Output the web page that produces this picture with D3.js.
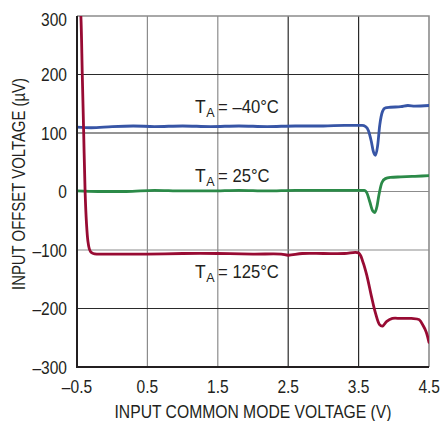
<!DOCTYPE html>
<html>
<head>
<meta charset="utf-8">
<script src="https://cdn.jsdelivr.net/npm/d3@7"></script>
<style>
  body { margin: 0; background: #fff; }
  text { font-family: "Liberation Sans Narrow", "Liberation Sans", Arial, sans-serif; fill: #231f20; }
</style>
</head>
<body>
<div class="chart"></div>
<script>
var svgWidth = 441;
var svgHeight = 421;

var margin = { top: 16, right: 12, bottom: 54, left: 77 };
var width = svgWidth - margin.left - margin.right;
var height = svgHeight - margin.top - margin.bottom;

// tick values
var xTicks = [-0.5, 0.5, 1.5, 2.5, 3.5, 4.5];
var yTicks = [-300, -200, -100, 0, 100, 200, 300];
// grid shading (some lines print grey, some black)
var xGridGrey = [0.5, 1.5];
var yGridGrey = [0, -100];

// T_A = -40C
var coldX = [-0.5, -0.3, 0, 0.3, 0.6, 1.0, 1.4, 1.8, 2.2, 2.6, 3.0, 3.3, 3.55, 3.6, 3.64, 3.68, 3.71, 3.74, 3.77, 3.8, 3.84, 3.88, 3.95, 4.1, 4.2, 4.3, 4.5];
var coldY = [110, 109, 111, 112, 111, 112, 111, 112, 111, 112, 112, 113, 113, 111, 104, 86, 68, 62, 78, 113, 137, 143, 144, 145, 147, 146, 147];

// T_A = 25C
var roomX = [-0.5, -0.2, 0.2, 0.6, 1.0, 1.4, 1.8, 2.2, 2.6, 3.0, 3.3, 3.58, 3.62, 3.66, 3.7, 3.73, 3.76, 3.79, 3.83, 3.88, 3.95, 4.1, 4.3, 4.5];
var roomY = [1, 0, 0, 2, 1, 1, 2, 1, 2, 2, 2, 2, -3, -18, -33, -36, -26, -5, 15, 22, 24, 25, 26, 27];

// T_A = 125C
var hotX = [-0.462, -0.445, -0.425, -0.405, -0.385, -0.365, -0.345, -0.325, -0.3, -0.27, -0.22, 0, 0.5, 1.0, 1.5, 2.0, 2.4, 2.5, 2.7, 3.0, 3.3, 3.5, 3.56, 3.62, 3.68, 3.74, 3.8, 3.84, 3.9, 3.98, 4.1, 4.25, 4.36, 4.42, 4.46, 4.5];
var hotY = [330, 300, 200, 100, 0, -55, -85, -98, -104, -106, -107, -107, -107, -106, -106, -107, -107, -109, -106, -106, -106, -105, -120, -145, -178, -208, -228, -230, -222, -217, -217, -217, -219, -230, -240, -258];

// curve labels
var labelText = ["= \u201340\u00b0C", "= 25\u00b0C", "= 125\u00b0C"];
var labelY = [113, 182, 278];

var series = [
  { x: coldX, y: coldY, color: "#3755a6" },
  { x: roomX, y: roomY, color: "#2b8a48" },
  { x: hotX, y: hotY, color: "#980b33" }
];

var svg = d3.select(".chart")
  .append("svg")
  .attr("width", svgWidth)
  .attr("height", svgHeight);

var chartGroup = svg.append("g")
  .attr("transform", `translate(${margin.left}, ${margin.top})`);

var xScale = d3.scaleLinear().domain([-0.5, 4.5]).range([0, width]);
var yScale = d3.scaleLinear().domain([-300, 300]).range([height, 0]);

// grid
chartGroup.selectAll(".xgrid")
  .data(xTicks.slice(1, -1))
  .enter()
  .append("line")
  .attr("x1", d => xScale(d))
  .attr("x2", d => xScale(d))
  .attr("y1", 0)
  .attr("y2", height)
  .attr("stroke", d => xGridGrey.indexOf(d) >= 0 ? "#8c8c8c" : "#2a2a2a")
  .attr("stroke-width", 1.2);

chartGroup.selectAll(".ygrid")
  .data(yTicks.slice(1, -1))
  .enter()
  .append("line")
  .attr("x1", 0)
  .attr("x2", width)
  .attr("y1", d => yScale(d))
  .attr("y2", d => yScale(d))
  .attr("stroke", d => yGridGrey.indexOf(d) >= 0 ? "#8c8c8c" : "#2a2a2a")
  .attr("stroke-width", 1.2);

// top and right frame (grey)
chartGroup.append("path")
  .attr("d", `M0,0H${width}V${height}`)
  .attr("fill", "none")
  .attr("stroke", "#8c8c8c")
  .attr("stroke-width", 1.6);

// clip curves to plot
chartGroup.append("clipPath").attr("id", "plotclip")
  .append("rect")
  .attr("x", 0).attr("y", 0)
  .attr("width", width).attr("height", height);

var line = d3.line()
  .x(d => xScale(d[0]))
  .y(d => yScale(d[1]))
  .curve(d3.curveMonotoneX);

var hotLine = d3.line()
  .x(d => xScale(d[0]))
  .y(d => yScale(d[1]))
  .curve(d3.curveCatmullRom.alpha(0.5));

series.forEach(function(s, i) {
  var pts = s.x.map((v, j) => [v, s.y[j]]);
  chartGroup.append("path")
    .datum(pts)
    .attr("clip-path", "url(#plotclip)")
    .attr("d", i === 2 ? hotLine : line)
    .attr("fill", "none")
    .attr("stroke", s.color)
    .attr("stroke-width", 2.8)
    .attr("stroke-linejoin", "round")
    .attr("stroke-linecap", "round");
});

// left and bottom axes lines (black)
chartGroup.append("path")
  .attr("d", `M0,0V${height}H${width}`)
  .attr("fill", "none")
  .attr("stroke", "#231f20")
  .attr("stroke-width", 2);

// squeeze a text to a condensed look
function narrow(sel, k) {
  sel.each(function() {
    var w = this.getComputedTextLength();
    d3.select(this)
      .attr("textLength", w * k)
      .attr("lengthAdjust", "spacingAndGlyphs");
  });
  return sel;
}

// tick labels
var fmtX = d => (d < 0 ? "\u2013" : "") + Math.abs(d).toFixed(1);
var fmtY = d => (d < 0 ? "\u2013" : "") + Math.abs(d);

var xLabels = chartGroup.selectAll(".xlab")
  .data(xTicks)
  .enter()
  .append("text")
  .attr("x", (d, i) => i === xTicks.length - 1 ? width + 11 : xScale(d))
  .attr("y", height + 26)
  .attr("text-anchor", (d, i) => i === xTicks.length - 1 ? "end" : "middle")
  .attr("font-size", "18.5px")
  .text(fmtX);
narrow(xLabels, 0.84);

var yLabels = chartGroup.selectAll(".ylab")
  .data(yTicks)
  .enter()
  .append("text")
  .attr("x", -10)
  .attr("y", d => yScale(d) + 6.5 + (d === 300 ? 3 : 0))
  .attr("text-anchor", "end")
  .attr("font-size", "18.5px")
  .text(fmtY);
narrow(yLabels, 0.84);

// axis titles
svg.append("text")
  .attr("x", margin.left + width / 2)
  .attr("y", 418)
  .attr("text-anchor", "middle")
  .attr("font-size", "18px")
  .attr("textLength", 277)
  .attr("lengthAdjust", "spacingAndGlyphs")
  .text("INPUT COMMON MODE VOLTAGE (V)");

svg.append("text")
  .attr("transform", "translate(25, 184) rotate(-90)")
  .attr("text-anchor", "middle")
  .attr("font-size", "18px")
  .attr("textLength", 212)
  .attr("lengthAdjust", "spacingAndGlyphs")
  .text("INPUT OFFSET VOLTAGE (\u00b5V)");

// curve labels: T, subscript A, then the rest
labelText.forEach(function(t, i) {
  var x = 195;
  var tT = svg.append("text")
    .attr("x", x).attr("y", labelY[i])
    .attr("font-size", "17.5px")
    .text("T");
  x += tT.node().getComputedTextLength() + 0.5;
  var tA = svg.append("text")
    .attr("x", x).attr("y", labelY[i] + 4)
    .attr("font-size", "12.5px")
    .text("A");
  x += tA.node().getComputedTextLength() + 3.5;
  var tR = svg.append("text")
    .attr("x", x).attr("y", labelY[i])
    .attr("font-size", "18.5px")
    .text(t);
  narrow(tR, 0.9);
});
</script>
</body>
</html>
